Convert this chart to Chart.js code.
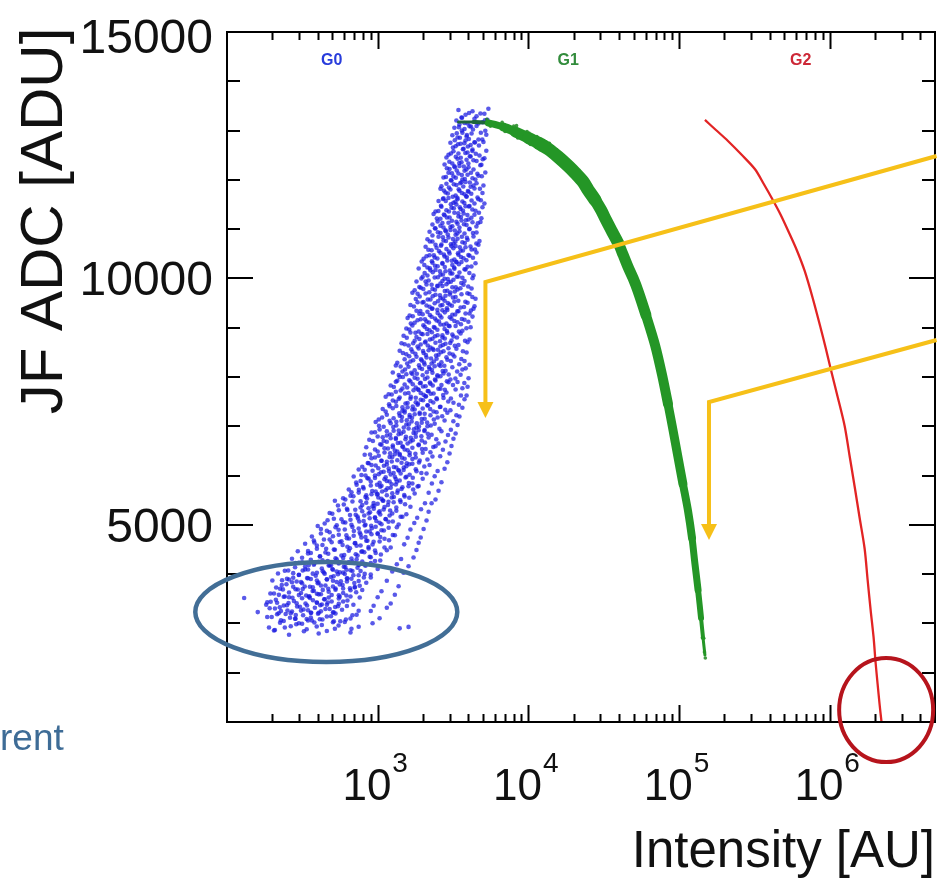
<!DOCTYPE html>
<html>
<head>
<meta charset="utf-8">
<script src="https://cdn.jsdelivr.net/npm/chart.js@4.4.1/dist/chart.umd.min.js"></script>
<style>
  html, body { margin: 0; padding: 0; background: #fff; }
  canvas { display: block; }
</style>
</head>
<body>
<canvas id="c" width="939" height="880"></canvas>
<script>
// G0: low-gain pixel cloud [intensity, ADC]
const g0Points = [
  [3436,13417],[3830,13322],[4260,13392],[4810,13347],[5430,13442],
  [3330,13205],[3600,13265],[3950,13145],[4390,13240],[4960,13170],[5350,13220],
  [3230,13057],[3490,13122],[3770,13032],[4070,13087],[4530,13092],[5180,12997],
  [3130,12905],[3390,12860],[3650,12955],[3890,12880],[4200,12940],[4667,12820],[5260,12915],
  [3040,12753],[3290,12683],[3550,12733],[3830,12798],[4140,12708],[4390,12763],[5035,12768],
  [2951,12510],[3184,12580],[3436,12535],[3715,12630],[3950,12555],[4260,12615],[4740,12495],[5260,12590],
  [2860,12453],[3130,12333],[3390,12428],[3600,12358],[3890,12408],[4140,12473],[4530,12383],[5110,12438],
  [2780,12311],[3000,12221],[3230,12276],[3490,12281],[3770,12186],[4009,12256],[4325,12211],[4880,12306],
  [2735,12048],[2951,12143],[3184,12068],[3436,12128],[3650,12008],[3950,12103],[4260,12033],[4667,12083],[5180,12148],
  [2650,11871],[2860,11921],[3090,11986],[3330,11896],[3600,11951],[3830,11956],[4140,11861],[4530,11931],[5035,11886],
  [2610,11819],[2820,11744],[3040,11804],[3290,11684],[3490,11779],[3770,11709],[4009,11759],[4390,11824],[4960,11734],
  [2535,11571],[2735,11626],[2951,11631],[3184,11536],[3390,11606],[3650,11561],[3890,11656],[4200,11581],[4600,11641],[5110,11521],
  [2420,11359],[2650,11454],[2860,11384],[3090,11434],[3330,11499],[3550,11409],[3830,11464],[4070,11469],[4460,11374],[4960,11444],
  [2350,11307],[2610,11212],[2780,11282],[3000,11237],[3230,11332],[3436,11257],[3715,11317],[4009,11197],[4390,11292],[4880,11222],
  [2310,11094],[2500,11154],[2735,11034],[2951,11129],[3130,11059],[3390,11109],[3600,11174],[3890,11084],[4260,11139],[4810,11144],
  [2210,10947],[2420,11012],[2610,10922],[2820,10977],[3040,10982],[3290,10887],[3490,10957],[3770,10912],[4070,11007],[4530,10932],
  [2140,10795],[2310,10750],[2535,10845],[2735,10770],[2951,10830],[3184,10710],[3390,10805],[3650,10735],[3950,10785],[4325,10850],[4740,10760],
  [2080,10642],[2280,10572],[2460,10622],[2650,10687],[2860,10597],[3090,10652],[3290,10657],[3550,10562],[3830,10632],[4200,10587],[4667,10682],
  [2018,10400],[2210,10470],[2390,10425],[2610,10520],[2780,10445],[3000,10505],[3230,10385],[3436,10480],[3715,10410],[4070,10460],[4530,10525],
  [1960,10343],[2140,10223],[2310,10318],[2500,10248],[2690,10298],[2900,10363],[3130,10273],[3330,10328],[3600,10333],[3950,10238],[4460,10308],
  [1871,10200],[2050,10110],[2240,10165],[2420,10170],[2610,10075],[2820,10145],[3040,10100],[3230,10195],[3490,10120],[3830,10180],[4325,10060],
  [1810,9938],[1990,10033],[2178,9958],[2390,10018],[2610,9898],[2780,9993],[2951,9923],[3184,9973],[3436,10038],[3770,9948],[4260,10003],
  [1760,9761],[1930,9811],[2110,9876],[2310,9786],[2500,9841],[2690,9846],[2900,9751],[3130,9821],[3390,9776],[3715,9871],[4200,9796],
  [1700,9708],[1900,9633],[2080,9693],[2240,9573],[2420,9668],[2610,9598],[2820,9648],[3040,9713],[3290,9623],[3600,9678],[4070,9683],[4460,9588],
  [1650,9461],[1840,9516],[2018,9521],[2210,9426],[2390,9496],[2610,9451],[2780,9546],[3000,9471],[3230,9531],[3550,9411],[3950,9506],[4390,9436],
  [1630,9249],[1810,9344],[1990,9274],[2140,9324],[2310,9389],[2500,9299],[2690,9354],[2900,9359],[3130,9264],[3436,9334],[3830,9289],[4325,9384],
  [1580,9196],[1760,9101],[1930,9171],[2110,9126],[2280,9221],[2460,9146],[2650,9206],[2860,9086],[3090,9181],[3390,9111],[3770,9161],[4260,9226],
  [1550,8984],[1700,9044],[1871,8924],[2050,9019],[2210,8949],[2390,8999],[2610,9064],[2780,8974],[3000,9029],[3290,9034],[3650,8939],[4140,9009],
  [1486,8837],[1650,8902],[1810,8812],[1990,8867],[2140,8872],[2310,8777],[2500,8847],[2690,8802],[2900,8897],[3184,8822],[3550,8882],[4070,8762],
  [1440,8684],[1603,8639],[1760,8734],[1930,8659],[2080,8719],[2240,8599],[2420,8694],[2610,8624],[2820,8674],[3090,8739],[3436,8649],[3950,8704],
  [1400,8532],[1550,8462],[1700,8512],[1871,8577],[2018,8487],[2178,8542],[2350,8547],[2535,8452],[2735,8522],[3000,8477],[3330,8572],[3890,8497],
  [1350,8290],[1510,8360],[1650,8315],[1810,8410],[1960,8335],[2110,8395],[2280,8275],[2460,8370],[2650,8300],[2900,8350],[3230,8415],[3770,8325],
  [1320,8233],[1460,8113],[1603,8208],[1760,8138],[1900,8188],[2050,8253],[2210,8163],[2390,8218],[2610,8223],[2820,8128],[3130,8198],[3650,8153],[4070,8248],
  [1260,8090],[1400,8000],[1550,8055],[1700,8060],[1840,7965],[1990,8035],[2140,7990],[2310,8085],[2500,8010],[2735,8070],[3040,7950],[3550,8045],[4009,7975],
  [1220,7828],[1350,7923],[1510,7848],[1650,7908],[1790,7788],[1930,7883],[2080,7813],[2240,7863],[2420,7928],[2650,7838],[2951,7893],[3390,7898],[3950,7803],
  [1183,7651],[1320,7701],[1460,7766],[1603,7676],[1730,7731],[1871,7736],[2018,7641],[2178,7711],[2350,7666],[2610,7761],[2860,7686],[3290,7746],[3890,7626],
  [1130,7598],[1260,7523],[1400,7583],[1530,7463],[1650,7558],[1790,7488],[1930,7538],[2080,7603],[2240,7513],[2460,7568],[2735,7573],[3184,7478],[3770,7548],
  [1080,7351],[1200,7406],[1330,7411],[1460,7316],[1580,7386],[1700,7341],[1840,7436],[1990,7361],[2140,7421],[2350,7301],[2610,7396],[3040,7326],[3650,7376],
  [1016,7139],[1150,7234],[1276,7164],[1400,7214],[1510,7279],[1630,7189],[1760,7244],[1900,7249],[2050,7154],[2240,7224],[2500,7179],[2900,7274],[3490,7199],
  [970,7086],[1096,6991],[1220,7061],[1330,7016],[1440,7111],[1550,7036],[1680,7096],[1810,6976],[1960,7071],[2140,7001],[2390,7051],[2780,7116],[3390,7026],
  [910,6874],[1030,6934],[1150,6814],[1276,6909],[1377,6839],[1486,6889],[1603,6954],[1730,6864],[1871,6919],[2050,6924],[2280,6829],[2650,6899],[3290,6854],
  [880,6727],[1000,6792],[1096,6702],[1220,6757],[1320,6762],[1420,6667],[1530,6737],[1650,6692],[1790,6787],[1960,6712],[2178,6772],[2535,6652],[3184,6747],
  [840,6574],[960,6529],[1060,6624],[1170,6549],[1260,6609],[1350,6489],[1460,6584],[1580,6514],[1700,6564],[1871,6629],[2080,6539],[2420,6594],[3090,6599],
  [820,6422],[910,6352],[1016,6402],[1110,6467],[1200,6377],[1300,6432],[1400,6437],[1510,6342],[1630,6412],[1790,6367],[1990,6462],[2310,6387],[3000,6447],
  [790,6180],[871,6250],[970,6205],[1060,6300],[1150,6225],[1240,6285],[1330,6165],[1440,6260],[1550,6190],[1700,6240],[1900,6305],[2210,6215],[2900,6270],
  [748,6122],[830,6002],[925,6097],[1016,6027],[1096,6077],[1183,6142],[1276,6052],[1377,6107],[1486,6112],[1630,6017],[1810,6087],[2110,6042],[2780,6137],
  [693,5980],[770,5890],[855,5945],[960,5950],[1030,5855],[1110,5925],[1200,5880],[1300,5975],[1400,5900],[1530,5960],[1700,5840],[1990,5935],[2650,5865],
  [643,5718],[725,5813],[807,5738],[900,5798],[970,5678],[1040,5773],[1130,5703],[1220,5753],[1320,5818],[1440,5728],[1603,5783],[1871,5788],[2535,5693],
  [590,5540],[660,5590],[748,5655],[830,5565],[910,5620],[1000,5625],[1060,5530],[1150,5600],[1240,5555],[1350,5650],[1510,5575],[1760,5635],[2420,5515],
  [520,5488],[596,5413],[680,5473],[770,5353],[840,5448],[925,5378],[1000,5428],[1080,5493],[1170,5403],[1276,5458],[1420,5463],[1650,5368],[2280,5438],
  [480,5241],[552,5296],[630,5301],[715,5206],[790,5276],[871,5231],[942,5326],[1016,5251],[1096,5311],[1200,5191],[1330,5286],[1550,5216],[2178,5266],
  [445,5029],[512,5124],[590,5054],[660,5104],[735,5169],[807,5079],[885,5134],[960,5139],[1030,5044],[1130,5114],[1260,5069],[1460,5164],[2110,5089],
  [400,4976],[460,4881],[525,4951],[605,4906],[670,5001],[748,4926],[820,4986],[885,4866],[970,4961],[1060,4891],[1183,4941],[1377,5006],[2018,4916],
  [366,4764],[420,4824],[480,4704],[552,4799],[625,4729],[693,4779],[760,4844],[830,4754],[910,4809],[1000,4814],[1110,4719],[1300,4789],[1930,4744],
  [330,4617],[377,4682],[430,4592],[495,4647],[560,4652],[630,4557],[705,4627],[770,4582],[840,4677],[925,4602],[1030,4662],[1220,4542],[1871,4637],
  [295,4464],[345,4419],[395,4514],[450,4439],[512,4499],[575,4379],[643,4474],[715,4404],[780,4454],[871,4519],[970,4429],[1150,4484],[1810,4489],
  [270,4312],[315,4242],[360,4292],[413,4357],[466,4267],[525,4322],[590,4327],[650,4232],[725,4302],[790,4257],[885,4352],[1040,4277],[1730,4337],
  [242,4070],[283,4140],[330,4095],[377,4190],[426,4115],[480,4175],[535,4055],[596,4150],[660,4080],[735,4130],[820,4195],[1000,4105],[1603,4160],
  [218,4012],[258,3892],[300,3987],[345,3917],[388,3967],[439,4032],[490,3942],[545,3997],[605,4002],[670,3907],[748,3977],[900,3932],[1486,4027],
  [200,3870],[231,3780],[270,3835],[310,3840],[355,3745],[400,3815],[450,3770],[505,3865],[560,3790],[625,3850],[705,3730],[840,3825],[1377,3755],
  [194,3608],[225,3703],[258,3628],[295,3688],[335,3568],[377,3663],[420,3593],[473,3643],[525,3708],[590,3618],[660,3673],[790,3678],[1300,3583],
  [185,3430],[211,3480],[242,3545],[278,3455],[315,3510],[355,3515],[395,3420],[445,3490],[495,3445],[560,3540],[630,3465],[760,3525],[1220,3405],
  [182,3378],[208,3303],[238,3363],[270,3243],[305,3338],[345,3268],[383,3318],[426,3383],[480,3293],[545,3348],[625,3353],[748,3258],[1150,3318],
  [185,3131],[215,3186],[245,3191],[283,3096],[320,3166],[360,3121],[406,3216],[460,3141],[525,3201],[615,3081],[725,3176],[1030,3106],
  [190,2918],[225,3013],[265,2943],[315,2993],[366,3058],[426,2968],[505,3023],[605,3028],[748,2933],[925,3003],
  [208,2866],[258,2771],[324,2841],[406,2796],[520,2891],[660,2816],
  // in-between hits
  [3630,13261],[4040,13356],[4530,13291],[5110,13341],
  [3460,13069],[3770,13154],[4160,13084],[4660,13144],[5150,13209],
  [3350,12946],[3620,13001],[3910,12911],[4290,13021],[4840,12956],
  [3250,12804],[3510,12854],[3760,12744],[4030,12829],[4420,12759],[4950,12819],
  [3160,12657],[3410,12722],[3680,12622],[3970,12677],[4250,12587],[4700,12697],
  [3060,12534],[3300,12469],[3560,12449],[3820,12544],[4090,12479],[4480,12529],[4980,12419],
  [2990,12367],[3250,12257],[3480,12342],[3730,12272],[4000,12332],[4320,12397],[4800,12297],
  [2880,12235],[3110,12135],[3350,12190],[3620,12100],[3880,12210],[4160,12145],[4590,12125],
  [2840,12057],[3060,11992],[3300,12042],[3530,11932],[3790,12017],[4090,11947],[4450,12007],[4910,12072],
  [2750,11785],[2970,11845],[3200,11910],[3450,11810],[3700,11865],[3970,11775],[4320,11885],[4770,11820],
  [2710,11612],[2920,11722],[3150,11657],[3380,11637],[3620,11732],[3880,11667],[4180,11717],[4660,11607],
  [2630,11475],[2830,11570],[3060,11505],[3280,11555],[3510,11445],[3760,11530],[4030,11460],[4390,11520],[4840,11585],
  [2530,11368],[2750,11298],[2970,11358],[3200,11423],[3430,11323],[3680,11378],[3940,11288],[4250,11398],[4700,11333],
  [2470,11216],[2690,11126],[2880,11236],[3110,11171],[3330,11151],[3570,11246],[3850,11181],[4190,11231],[4620,11121],
  [2400,11018],[2610,11068],[2830,10958],[3040,11043],[3250,10973],[3490,11033],[3740,11098],[4060,10998],[4520,11053],
  [2310,10871],[2510,10936],[2710,10836],[2920,10891],[3160,10801],[3380,10911],[3620,10846],[3910,10826],[4290,10921],
  [2220,10749],[2420,10684],[2630,10664],[2840,10759],[3060,10694],[3280,10744],[3510,10634],[3790,10719],[4130,10649],[4520,10709],
  [2170,10581],[2360,10471],[2550,10556],[2750,10486],[2970,10546],[3180,10611],[3410,10511],[3680,10566],[4000,10476],[4420,10586],
  [2110,10449],[2290,10349],[2490,10404],[2690,10314],[2880,10424],[3110,10359],[3330,10339],[3570,10434],[3880,10369],[4290,10419],
  [2040,10272],[2220,10207],[2400,10257],[2590,10147],[2790,10232],[3010,10162],[3220,10222],[3460,10287],[3770,10187],[4190,10242],
  [1950,9999],[2140,10059],[2320,10124],[2510,10024],[2710,10079],[2920,9989],[3130,10099],[3350,10034],[3650,10014],[4060,10109],
  [1890,9827],[2080,9937],[2280,9872],[2490,9852],[2690,9947],[2860,9882],[3060,9932],[3300,9822],[3590,9907],[3990,9837],
  [1840,9690],[2010,9785],[2200,9720],[2400,9770],[2590,9660],[2790,9745],[3010,9675],[3250,9735],[3540,9800],[3940,9700],
  [1790,9582],[1980,9512],[2150,9572],[2320,9637],[2510,9537],[2710,9592],[2920,9502],[3160,9612],[3430,9547],[3820,9527],[4250,9622],
  [1740,9430],[1920,9340],[2110,9450],[2290,9385],[2490,9365],[2690,9460],[2880,9395],[3110,9445],[3380,9335],[3740,9420],[4160,9350],
  [1710,9232],[1890,9282],[2060,9172],[2220,9257],[2400,9187],[2590,9247],[2790,9312],[3010,9212],[3270,9267],[3620,9177],[4070,9287],
  [1660,9085],[1840,9150],[2010,9050],[2190,9105],[2360,9015],[2550,9125],[2750,9060],[2960,9040],[3230,9135],[3570,9070],[4000,9120],
  [1620,8963],[1780,8898],[1950,8878],[2120,8973],[2290,8908],[2490,8958],[2690,8848],[2880,8933],[3130,8863],[3460,8923],[3880,8988],
  [1560,8796],[1720,8686],[1890,8771],[2060,8701],[2220,8761],[2400,8826],[2590,8726],[2790,8781],[3030,8691],[3360,8801],[3800,8736],
  [1510,8663],[1670,8563],[1840,8618],[2000,8528],[2150,8638],[2320,8573],[2510,8553],[2710,8648],[2950,8583],[3250,8633],[3680,8523],
  [1470,8486],[1620,8421],[1780,8471],[1940,8361],[2090,8446],[2260,8376],[2440,8436],[2630,8501],[2860,8401],[3150,8456],[3590,8366],
  [1420,8214],[1570,8274],[1720,8339],[1880,8239],[2030,8294],[2190,8204],[2360,8314],[2550,8249],[2770,8229],[3060,8324],[3480,8259],
  [1380,8041],[1520,8151],[1670,8086],[1820,8066],[1970,8161],[2120,8096],[2290,8146],[2490,8036],[2700,8121],[2960,8051],[3370,8111],[3840,8176],
  [1320,7904],[1470,7999],[1620,7934],[1760,7984],[1910,7874],[2060,7959],[2220,7889],[2400,7949],[2610,8014],[2880,7914],[3280,7969],[3760,7879],
  [1280,7797],[1420,7727],[1570,7787],[1710,7852],[1850,7752],[2000,7807],[2150,7717],[2320,7827],[2530,7762],[2790,7742],[3160,7837],[3650,7772],
  [1240,7644],[1380,7554],[1520,7664],[1660,7599],[1790,7579],[1930,7674],[2090,7609],[2250,7659],[2470,7549],[2720,7634],[3060,7564],[3570,7624],
  [1190,7447],[1320,7497],[1460,7387],[1580,7472],[1710,7402],[1850,7462],[2000,7527],[2150,7427],[2340,7482],[2590,7392],[2940,7502],[3460,7437],
  [1130,7300],[1260,7365],[1390,7265],[1510,7320],[1630,7230],[1760,7340],[1900,7275],[2050,7255],[2230,7350],[2460,7285],[2810,7335],[3330,7225],
  [1070,7178],[1200,7113],[1330,7093],[1450,7188],[1560,7123],[1690,7173],[1820,7063],[1960,7148],[2130,7078],[2360,7138],[2680,7203],[3180,7103],
  [1020,7010],[1150,6900],[1270,6985],[1380,6915],[1490,6975],[1610,7040],[1740,6940],[1880,6995],[2040,6905],[2250,7015],[2570,6950],[3060,6930],
  [960,6878],[1080,6778],[1210,6833],[1320,6743],[1430,6853],[1540,6788],[1660,6768],[1790,6863],[1950,6798],[2150,6848],[2450,6738],[2930,6823],
  [930,6701],[1040,6636],[1150,6686],[1260,6576],[1360,6661],[1470,6591],[1580,6651],[1710,6716],[1870,6616],[2060,6671],[2340,6581],[2820,6691],
  [890,6428],[1000,6488],[1110,6553],[1210,6453],[1300,6508],[1400,6418],[1510,6528],[1630,6463],[1780,6443],[1970,6538],[2240,6473],[2710,6523],
  [860,6256],[960,6366],[1060,6301],[1150,6281],[1250,6376],[1350,6311],[1450,6361],[1560,6251],[1700,6336],[1880,6266],[2140,6326],[2600,6391],
  [820,6119],[910,6214],[1010,6149],[1100,6199],[1190,6089],[1280,6174],[1380,6104],[1490,6164],[1620,6229],[1790,6129],[2040,6184],[2500,6094],
  [780,6011],[870,5941],[960,6001],[1050,6066],[1130,5966],[1220,6021],[1320,5931],[1420,6041],[1550,5976],[1710,5956],[1950,6051],[2390,5986],
  [720,5859],[800,5769],[900,5879],[990,5814],[1060,5794],[1150,5889],[1240,5824],[1340,5874],[1460,5764],[1610,5849],[1840,5779],[2290,5839],
  [670,5662],[750,5712],[840,5602],[920,5687],[990,5617],[1070,5677],[1160,5742],[1250,5642],[1360,5697],[1500,5607],[1720,5717],[2180,5652],
  [610,5514],[690,5579],[770,5479],[850,5534],[940,5444],[1010,5554],[1090,5489],[1180,5469],[1280,5564],[1410,5499],[1620,5549],[2060,5439],
  [545,5392],[625,5327],[710,5307],[790,5402],[870,5337],[950,5387],[1030,5277],[1110,5362],[1210,5292],[1330,5352],[1520,5417],[1940,5317],
  [500,5225],[575,5115],[655,5200],[740,5130],[815,5190],[890,5255],[960,5155],[1040,5210],[1130,5120],[1250,5230],[1420,5165],[1830,5145],
  [465,5092],[535,4992],[610,5047],[680,4957],[755,5067],[830,5002],[905,4982],[980,5077],[1060,5012],[1180,5062],[1340,4952],[1750,5037],
  [420,4915],[480,4850],[550,4900],[620,4790],[695,4875],[770,4805],[840,4865],[915,4930],[1000,4830],[1100,4885],[1260,4795],[1650,4905],
  [380,4643],[440,4703],[505,4768],[575,4668],[645,4723],[710,4633],[780,4743],[855,4678],[940,4658],[1040,4753],[1190,4688],[1580,4738],
  [345,4470],[395,4580],[455,4515],[520,4495],[585,4590],[655,4525],[725,4575],[790,4465],[870,4550],[960,4480],[1110,4540],[1500,4605],
  [315,4333],[360,4428],[415,4363],[470,4413],[535,4303],[600,4388],[670,4318],[735,4378],[815,4443],[900,4343],[1050,4398],[1430,4308],
  [285,4226],[330,4156],[380,4216],[430,4281],[490,4181],[550,4236],[610,4146],[680,4256],[750,4191],[830,4171],[960,4266],[1340,4201],
  [255,4074],[300,3984],[345,4094],[395,4029],[445,4009],[500,4104],[560,4039],[620,4089],[690,3979],[770,4064],[900,3994],[1250,4054],
  [232,3876],[275,3926],[315,3816],[360,3901],[405,3831],[460,3891],[510,3956],[570,3856],[630,3911],[700,3821],[810,3931],[1150,3866],
  [212,3729],[248,3794],[285,3694],[328,3749],[370,3659],[420,3769],[470,3704],[525,3684],[585,3779],[655,3714],[760,3764],[1060,3654],
  [205,3607],[238,3542],[272,3522],[310,3617],[352,3552],[395,3602],[442,3492],[495,3577],[552,3507],[620,3567],[720,3632],[1000,3532],
  [195,3439],[224,3329],[256,3414],[292,3344],[332,3404],[372,3469],[416,3369],[466,3424],[522,3334],[590,3444],[690,3379],[940,3359],
  [192,3307],[220,3207],[252,3262],[286,3172],[322,3282],[362,3217],[402,3197],[450,3292],[510,3227],[580,3277],[680,3167],[900,3252],
  [198,3130],[228,3065],[262,3115],[300,3005],[338,3090],[380,3020],[430,3080],[490,3145],[565,3045],[660,3100],
  [205,2857],[242,2917],[288,2982],[338,2882],[394,2937],[460,2847],[550,2957],[670,2892],
  // dense core near the bottom of the cloud
  [300,4230],[349,4185],[406,4250],[473,4175],[552,4215],[643,4240],[748,4190],[900,4225],
  [275,4020],[318,4075],[371,4010],[432,4060],[505,4090],[590,4030],[680,4065],[820,4005],
  [250,3905],[290,3850],[340,3920],[395,3870],[460,3895],[535,3840],[625,3915],[748,3860],
  [235,3690],[275,3745],[318,3700],[371,3735],[432,3680],[505,3750],[590,3710],[705,3740],
  [221,3580],[258,3530],[300,3575],[349,3540],[406,3590],[473,3525],[552,3570],[660,3545],
  [215,3420],[250,3370],[290,3410],[340,3365],[395,3425],[460,3380],[552,3400],
  [228,3250],[265,3205],[310,3260],[360,3215],[420,3245],[505,3220],
  [238,3050],[285,3095],[345,3060],[413,3085],[512,3045],
  // stray hits
  [160,3230],[130,3516],[1400,2900],[1603,2930]
];

// G1: medium-gain trace centre line [intensity, ADC]
const g1Trace = [
  [3436,13174],[4325,13174],[5433,13154],[6830,13072],[8200,12971],[10010,12849],
  [11640,12748],[13560,12626],[15800,12464],[18400,12281],[20460,12139],[23150,11957],
  [24950,11794],[27720,11591],[30400,11388],[32800,11186],[35500,10983],[39450,10719],
  [42600,10476],[45900,10232],[49500,10009],[53450,9746],[60300,9259],[69300,8650],
  [77200,8041],[84500,7452],[91200,6925],[98400,6377],[106200,5829],[114800,5281],
  [122000,4733],[127600,4206],[133800,3678],[140000,3110],[144400,2704],[148600,2359]
];

// G1: scattered hits along both sides of the trace
const g1Edge = [
  [5300,13230],[5600,13090],[6700,13170],[7000,12980],[6500,13120],
  [8000,13090],[8500,12850],[8350,13100],[9800,12980],[10300,12720],[10100,12950],
  [11400,12880],[12000,12610],[11200,12820],[13200,12760],[14000,12490],[13800,12740],
  [15400,12610],[16300,12330],[15600,12570],[17900,12420],[19000,12140],[18700,12200],
  [19900,12270],[21200,12000],[20000,12240],[22400,12090],[23900,11830],[23500,11870],
  [24200,11920],[25800,11660],[26900,11720],[28600,11460],[27300,11680],
  [29500,11510],[31300,11270],[31800,11300],[33800,11070],[32400,11260],
  [34300,11090],[36700,10880],[38100,10810],[40800,10630],[38700,10790],
  [41100,10560],[44000,10390],[44300,10300],[47500,10160],[45200,10290],
  [47800,10060],[51200,9950],[51500,9790],[55400,9700],[52300,9760],
  [58100,9280],[62500,9240],[59000,9300],[66700,8670],[71900,8630],[68000,8690],
  [74500,8050],[80000,8030],[75800,8080],[81700,7460],[87300,7440],[83200,7480],
  [88300,6930],[94200,6920],[95400,6380],[101400,6370],[97000,6400],
  [103300,5830],[109100,5820],[112000,5290],[117500,5270],
  [119500,4740],[124500,4720],[125300,4210],[130000,4200],
  [131800,3690],[135800,3670],[138300,3120],[141800,3100],
  [143000,2710],[146000,2700],[147500,2420],[149500,2300]
];

// G2: high-gain trace [intensity, ADC]
const g2Trace = [
  [148600,13215],[175800,13012],[211300,12789],[261500,12504],[318600,12220],
  [365300,11916],[419500,11591],[473500,11287],[527000,10983],[604300,10577],
  [682400,10151],[771000,9603],[871000,8994],[941000,8588],[1016000,8162],
  [1130000,7594],[1257000,7006],[1356000,6397],[1466000,5768],[1581000,5139],
  [1707000,4510],[1786000,3881],[1870000,3272],[1955000,2725],[2018000,2197],
  [2080000,1771],[2143000,1365],[2208000,1000]
];

// axis labels
const yTickLabels = [5000, 10000, 15000];
const xTickExponents = [3, 4, 5, 6];
const gainNames = ['G0', 'G1', 'G2'];
const gainLabelX = [495, 18400, 643000];

// trace thickness per G1 segment (px)
const g1Width = [3,4,7,9,11,12,13,13,13,13,13,13,13,12,12,12,12,11,11,11,11,11,10,10,10,9,9,9,8,8,7,7,6,4,3];

// overlay marks in data space
const arrows = [
  { from: [5.12e6, 12484], joint: [5190, 9928], tip: 7168 },
  { from: [5.12e6, 8751], joint: [158100, 7493], tip: 4693 }
];
const lowRing = { x: 456, y: 3232, rx: 131, ry: 50 };
const endRing = { x: 2.37e6, y: 1243, rx: 47, ry: 52 };

const YELLOW = 'rgb(246,192,24)';
const FONT = '"Liberation Sans", Arial, sans-serif';

const xy = arr => arr.map(([x, y]) => ({ x, y }));

const decor = {
  id: 'decor',
  afterDatasetsDraw(chart) {
    const { ctx, chartArea: a } = chart;
    const xs = chart.scales.x, ys = chart.scales.y;
    const px = v => xs.getPixelForValue(v);
    const py = v => ys.getPixelForValue(v);
    ctx.save();

    // frame
    ctx.strokeStyle = '#000';
    ctx.lineWidth = 2;
    ctx.strokeRect(a.left, a.top, a.right - a.left, a.bottom - a.top);

    // x ticks, bottom and top, pointing inward
    ctx.beginPath();
    for (let e = 2; e <= 6; e++) {
      for (let m = 1; m <= 9; m++) {
        const v = m * Math.pow(10, e);
        if (v <= 100 || v >= 5e6) continue;
        const p = Math.round(px(v)) + 0.5;
        const len = m === 1 ? 17 : 8;
        ctx.moveTo(p, a.bottom); ctx.lineTo(p, a.bottom - len);
        ctx.moveTo(p, a.top); ctx.lineTo(p, a.top + len);
      }
    }
    // y ticks, left and right
    for (let v = 2000; v < 15000; v += 1000) {
      const p = Math.round(py(v));
      const len = v % 5000 === 0 ? 26 : 13;
      ctx.moveTo(a.left, p); ctx.lineTo(a.left + len, p);
      ctx.moveTo(a.right, p); ctx.lineTo(a.right - len, p);
    }
    ctx.stroke();

    // tick labels
    ctx.fillStyle = '#111';
    ctx.textBaseline = 'alphabetic';
    ctx.font = '48px ' + FONT;
    ctx.textAlign = 'right';
    yTickLabels.forEach(v => {
      const yy = Math.max(py(v), 36);
      ctx.fillText(String(v), 213, yy + 17);
    });
    ctx.textAlign = 'left';
    xTickExponents.forEach(e => {
      const c = px(Math.pow(10, e));
      ctx.font = '44px ' + FONT;
      const wBase = ctx.measureText('10').width;
      ctx.font = '28px ' + FONT;
      const wExp = ctx.measureText(String(e)).width;
      const left = c - (wBase + wExp) / 2 - 3;
      ctx.font = '44px ' + FONT;
      ctx.fillText('10', left, 800);
      ctx.font = '28px ' + FONT;
      ctx.fillText(String(e), left + wBase + 1, 772);
    });

    // axis titles
    ctx.font = '51px ' + FONT;
    ctx.textAlign = 'right';
    ctx.fillText('Intensity [AU]', 935, 867);
    ctx.save();
    ctx.translate(62, 221);
    ctx.rotate(-Math.PI / 2);
    ctx.font = '60px ' + FONT;
    ctx.textAlign = 'center';
    ctx.fillText('JF ADC [ADU]', 0, 0);
    ctx.restore();

    // gain stage names
    ctx.font = 'bold 16px "Liberation Sans Narrow", ' + FONT;
    ctx.textAlign = 'center';
    ctx.textBaseline = 'middle';
    const gainColors = ['rgb(40,60,220)', 'rgb(50,140,60)', 'rgb(205,40,55)'];
    gainNames.forEach((g, i) => {
      ctx.fillStyle = gainColors[i];
      ctx.fillText(g, px(gainLabelX[i]), py(14412));
    });

    // yellow arrows
    ctx.strokeStyle = YELLOW;
    ctx.fillStyle = YELLOW;
    ctx.lineWidth = 4;
    ctx.lineJoin = 'miter';
    arrows.forEach(ar => {
      const xj = px(ar.joint[0]), yj = py(ar.joint[1]), yt = py(ar.tip);
      ctx.beginPath();
      ctx.moveTo(px(ar.from[0]), py(ar.from[1]));
      ctx.lineTo(xj, yj);
      ctx.lineTo(xj, yt - 12);
      ctx.stroke();
      ctx.beginPath();
      ctx.moveTo(xj - 8, yt - 16);
      ctx.lineTo(xj + 8, yt - 16);
      ctx.lineTo(xj, yt);
      ctx.closePath();
      ctx.fill();
    });

    // rings
    ctx.lineWidth = 4.5;
    ctx.strokeStyle = 'rgb(66,110,150)';
    ctx.beginPath();
    ctx.ellipse(px(lowRing.x), py(lowRing.y), lowRing.rx, lowRing.ry, 0, 0, Math.PI * 2);
    ctx.stroke();
    ctx.lineWidth = 4;
    ctx.strokeStyle = 'rgb(182,20,28)';
    ctx.beginPath();
    ctx.ellipse(px(endRing.x), py(endRing.y), endRing.rx, endRing.ry, 0, 0, Math.PI * 2);
    ctx.stroke();

    // leftover slide text
    ctx.fillStyle = 'rgb(62,108,150)';
    ctx.font = '37px ' + FONT;
    ctx.textAlign = 'left';
    ctx.textBaseline = 'alphabetic';
    ctx.fillText('rent', 0, 750);

    ctx.restore();
  }
};

new Chart(document.getElementById('c'), {
  type: 'scatter',
  data: {
    datasets: [
      {
        label: 'G2',
        data: xy(g2Trace),
        showLine: true,
        tension: 0.3,
        borderColor: 'rgb(226,36,36)',
        borderWidth: 2.3,
        pointRadius: 0,
        order: 1
      },
      {
        label: 'G1',
        data: xy(g1Trace),
        showLine: true,
        tension: 0.3,
        borderColor: 'rgb(36,150,38)',
        borderCapStyle: 'round',
        borderJoinStyle: 'round',
        pointRadius: 0,
        segment: {
          borderWidth: c => g1Width[c.p0DataIndex],
          borderColor: c => c.p0DataIndex < 2 ? 'rgb(30,100,60)' : 'rgb(36,150,38)'
        },
        order: 2
      },
      {
        label: 'G1 hits',
        data: xy(g1Edge),
        pointRadius: 1.8,
        pointBorderWidth: 0,
        backgroundColor: 'rgba(30,135,30,0.85)',
        order: 2
      },
      {
        label: 'G0',
        data: xy(g0Points),
        pointRadius: 2.3,
        pointBorderWidth: 0,
        backgroundColor: 'rgba(25,25,225,0.72)',
        order: 3
      }
    ]
  },
  options: {
    responsive: false,
    animation: false,
    events: [],
    layout: { padding: { left: 227, top: 32, right: 2, bottom: 158 } },
    plugins: { legend: { display: false }, tooltip: { enabled: false } },
    scales: {
      x: { type: 'logarithmic', min: 100, max: 5e6, display: false },
      y: { type: 'linear', min: 1000, max: 15000, display: false }
    }
  },
  plugins: [decor]
});
</script>
</body>
</html>
